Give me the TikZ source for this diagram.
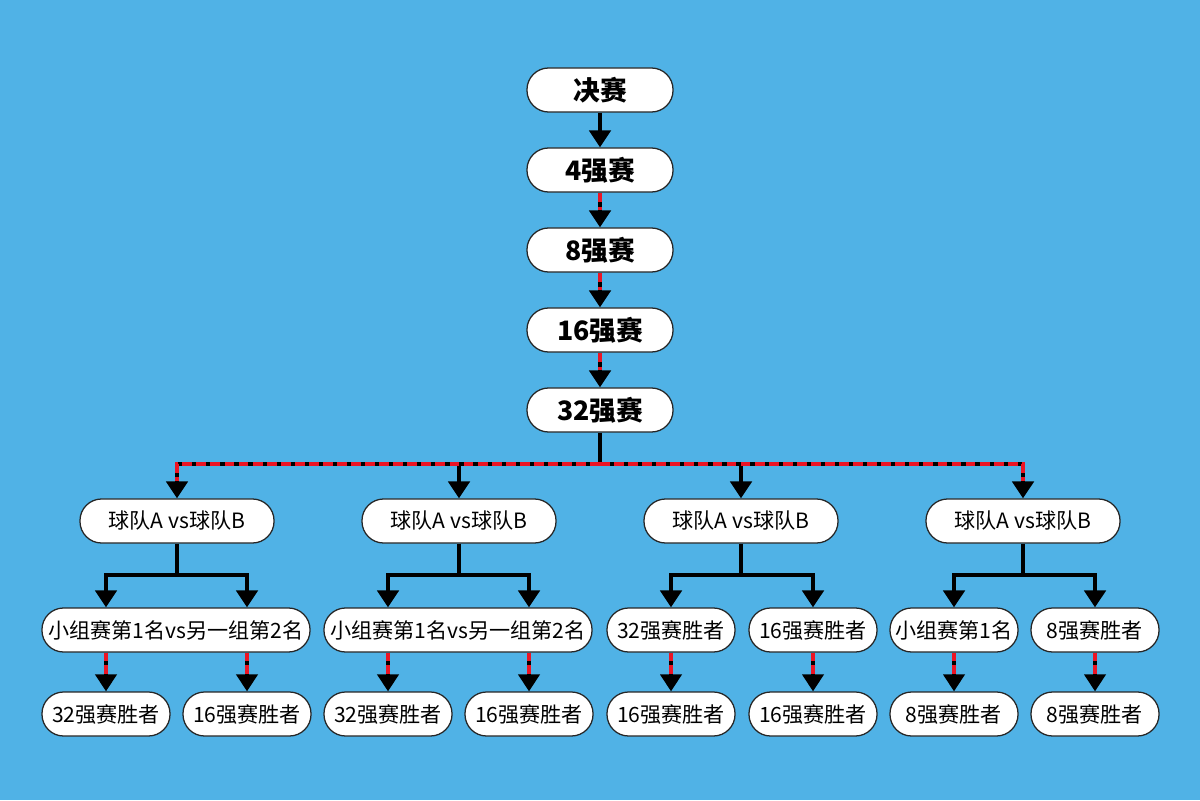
\documentclass[tikz,border=0pt]{standalone}
\usepackage{fontspec}
\setmainfont{Noto Sans CJK SC}
\usetikzlibrary{arrows.meta}
\definecolor{skyback}{RGB}{80,178,230}
\definecolor{dashred}{RGB}{236,20,36}
\tikzset{
  box/.style={draw=black!85, line width=0.9pt, fill=white, rounded corners=0.54cm,
    minimum height=1.1cm, inner sep=0pt, font=\fontsize{15}{18}\selectfont},
  topbox/.style={box, minimum width=3.65cm, font=\fontsize{19}{22}\selectfont\bfseries},
  matchbox/.style={box, minimum width=4.85cm},
  widebox/.style={box, minimum width=6.7cm},
  smallbox/.style={box, minimum width=3.2cm},
  link/.style={line width=3pt, -{Triangle[length=12pt,width=15pt]}},
  thinlink/.style={line width=2.4pt, -{Triangle[length=12pt,width=15pt]}},
  redash/.style={draw=dashred, line width=2.6pt, dash pattern=on 7pt off 3pt, shorten >=12pt},
  thinredash/.style={draw=dashred, line width=2.2pt, dash pattern=on 6pt off 3pt, shorten >=12pt}
}
\begin{document}
\begin{tikzpicture}[x=0.025cm,y=-0.025cm]
\fill[skyback] (0,0) rectangle (1200,800);

% rounds from the final down to the last 32
\foreach \n/\y/\t in {fin/90/决赛,q4/170/4强赛,q8/250/8强赛,q16/330/16强赛,q32/410/32强赛}
\node[topbox] (\n) at (600,\y) {\t};

\draw[link] (fin) -- (q4);
\foreach \a/\b in {q4/q8,q8/q16,q16/q32} {
\draw[link] (\a) -- (\b);
\draw[redash] (\a) -- (\b);}

% the four matches
\foreach \g/\x in {1/177,2/459,3/741,4/1023}
\node[matchbox] (m\g) at (\x,521) {球队A vs球队B};

\coordinate (j0) at (600,464);
\draw[line width=3pt] (q32) -- (j0);
\foreach \g in {2,3} \draw[link] (j0) -| (m\g);
\foreach \g in {1,4} {
\draw[link] (j0) -| (m\g);
\draw[redash] (j0) -| (m\g);}

% who plays in each match
\node[widebox,alias=b1] (a1) at (176,630) {小组赛第1名vs另一组第2名};
\node[widebox,alias=b2] (a2) at (458,630) {小组赛第1名vs另一组第2名};
\node[smallbox] (a3) at (671,630) {32强赛胜者};
\node[smallbox] (b3) at (813,630) {16强赛胜者};
\node[smallbox] (a4) at (954,630) {小组赛第1名};
\node[smallbox] (b4) at (1095,630) {8强赛胜者};

\foreach \n/\x/\t in {c1/106/32强赛胜者,d1/247/16强赛胜者,c2/388/32强赛胜者,d2/529/16强赛胜者,
  c3/671/16强赛胜者,d3/813/16强赛胜者,c4/954/8强赛胜者,d4/1095/8强赛胜者}
\node[smallbox] (\n) at (\x,714) {\t};

\foreach \g in {1,2,3,4} {
\coordinate (k\g) at (m\g.south |- 0,575);
\draw[line width=3pt] (m\g) -- (k\g);
\draw[link] (k\g) -| (c\g |- a\g.north);
\draw[link] (k\g) -| (d\g |- b\g.north);
\draw[thinlink] (c\g |- a\g.south) -- (c\g);
\draw[thinredash] (c\g |- a\g.south) -- (c\g);
\draw[thinlink] (d\g |- b\g.south) -- (d\g);
\draw[thinredash] (d\g |- b\g.south) -- (d\g);}

\end{tikzpicture}
\end{document}
